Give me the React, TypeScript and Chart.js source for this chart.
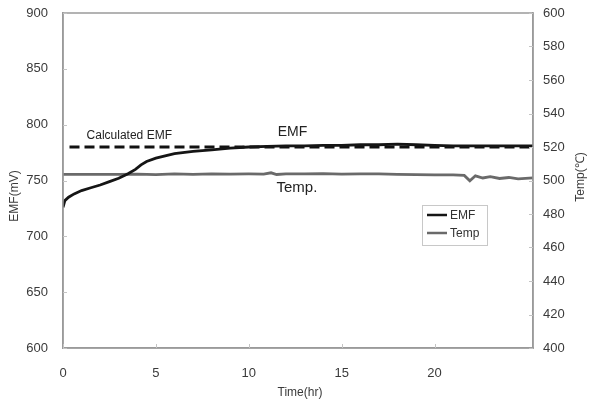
import React, { useEffect, useRef } from "react";
import { Chart, registerables } from "chart.js";

Chart.register(...registerables);

const emfTime = [0, 0.1, 0.3, 0.6, 1.0, 1.5, 2.0, 2.5, 3.0, 3.5, 3.9, 4.2, 4.5, 5.0, 5.5, 6.0, 7.0, 8.0, 9.0, 10.0, 11.0, 12.0, 13.0, 14.0, 15.0, 16.0, 17.0, 18.0, 19.0, 20.0, 21.0, 22.0, 23.0, 24.0, 25.3];
const emfValues = [726, 732, 735, 738, 741, 743.5, 746, 749, 752, 756, 760, 764, 767, 770, 772, 774, 776, 777.5, 779, 780, 780.5, 781, 781, 781.5, 781.5, 782, 782, 782.5, 782, 781.5, 781, 781, 781, 781, 781];

const tempTime = [0, 1, 2, 3, 4, 5, 6, 7, 8, 9, 10, 10.8, 11.2, 11.5, 12, 13, 14, 15, 16, 17, 18, 19, 20, 21, 21.6, 21.9, 22.2, 22.6, 23, 23.5, 24, 24.5, 25.3];
const tempValues = [503.6, 503.6, 503.6, 503.6, 503.8, 503.5, 503.9, 503.7, 504.0, 503.8, 503.9, 503.8, 504.6, 503.6, 504.0, 503.9, 504.1, 503.8, 504.0, 503.9, 503.7, 503.5, 503.4, 503.3, 503.0, 499.8, 502.8, 501.5, 502.3, 501.2, 501.8, 501.0, 501.6];

const calcTime = [0.35, 25.3];
const calcValues = [780, 780];

const xRange = [0, 25.3];
const xTickValues = [0, 5, 10, 15, 20];
const emfRange = [600, 900];
const tempRange = [400, 600];

const FONT = '"Liberation Sans", Arial, sans-serif';
const TEXT = "#3a3a3a";

const decorPlugin = {
  id: "decor",
  afterDatasetsDraw(chart: any) {
    const ctx = chart.ctx;
    const { left, right, top, bottom } = chart.chartArea;
    const x = chart.scales.x;
    const y = chart.scales.y;
    const y1 = chart.scales.y1;
    ctx.save();
    ctx.strokeStyle = "#9a9a9a";
    ctx.lineWidth = 1.5;
    ctx.strokeRect(left, top, right - left, bottom - top);

    // inner tick marks
    ctx.strokeStyle = "#c4c4c4";
    ctx.lineWidth = 1;
    ctx.beginPath();
    for (const t of y.ticks) {
      const p = Math.round(y.getPixelForValue(t.value)) + 0.5;
      ctx.moveTo(left, p); ctx.lineTo(left + 4, p);
    }
    for (const t of y1.ticks) {
      const p = Math.round(y1.getPixelForValue(t.value)) + 0.5;
      ctx.moveTo(right, p); ctx.lineTo(right - 4, p);
    }
    for (const t of x.ticks) {
      const p = Math.round(x.getPixelForValue(t.value)) + 0.5;
      ctx.moveTo(p, bottom); ctx.lineTo(p, bottom - 4);
    }
    ctx.stroke();

    ctx.fillStyle = "#222";
    ctx.textBaseline = "middle";
    ctx.textAlign = "left";
    ctx.font = `12px ${FONT}`;
    ctx.fillText("Calculated EMF", x.getPixelForValue(1.27), y.getPixelForValue(790.5));
    ctx.font = `14px ${FONT}`;
    ctx.fillText("EMF", x.getPixelForValue(11.56), y.getPixelForValue(792.9));
    ctx.font = `15px ${FONT}`;
    ctx.fillText("Temp.", x.getPixelForValue(11.49), y.getPixelForValue(743));

    const lx = 422, ly = 205, lw = 65, lh = 40;
    ctx.fillStyle = "#fff";
    ctx.fillRect(lx, ly, lw, lh);
    ctx.strokeStyle = "#c8c8c8";
    ctx.lineWidth = 1;
    ctx.strokeRect(lx + 0.5, ly + 0.5, lw, lh);
    const items = [
      { label: "EMF", color: "#151515", yy: 215 },
      { label: "Temp", color: "#6a6a6a", yy: 233 },
    ];
    ctx.font = `12px ${FONT}`;
    for (const it of items) {
      ctx.strokeStyle = it.color;
      ctx.lineWidth = 2.5;
      ctx.beginPath();
      ctx.moveTo(427, it.yy);
      ctx.lineTo(447, it.yy);
      ctx.stroke();
      ctx.fillStyle = "#333";
      ctx.fillText(it.label, 450, it.yy + 1);
    }

    ctx.fillStyle = TEXT;
    ctx.font = `12px ${FONT}`;
    ctx.textAlign = "center";
    ctx.fillText("Time(hr)", 300, 393);
    ctx.save();
    ctx.translate(15, 196);
    ctx.rotate(-Math.PI / 2);
    ctx.fillText("EMF(mV)", 0, 0);
    ctx.restore();
    ctx.save();
    ctx.translate(581, 177);
    ctx.rotate(-Math.PI / 2);
    ctx.fillText("Temp(\u2103)", 0, 0);
    ctx.restore();
    ctx.restore();
  },
};

export default function App() {
  const ref = useRef<HTMLCanvasElement | null>(null);
  useEffect(() => {
    if (!ref.current) return;
    const chart = new Chart(ref.current, {
      type: "line",
      data: {
        datasets: [
          {
            label: "EMF",
            data: emfTime.map((t, i) => ({ x: t, y: emfValues[i] })),
            borderColor: "#151515",
            borderWidth: 2.8,
            pointRadius: 0,
            yAxisID: "y",
            tension: 0,
          },
          {
            label: "Temp",
            data: tempTime.map((t, i) => ({ x: t, y: tempValues[i] })),
            borderColor: "#6a6a6a",
            borderWidth: 2.8,
            pointRadius: 0,
            yAxisID: "y1",
            tension: 0,
          },
          {
            label: "Calculated EMF",
            data: calcTime.map((t, i) => ({ x: t, y: calcValues[i] })),
            borderColor: "#111",
            borderWidth: 3,
            borderDash: [10, 5],
            pointRadius: 0,
            yAxisID: "y",
          },
        ],
      },
      options: {
        responsive: false,
        animation: false,
        layout: { padding: { top: 13, left: 0, right: 0, bottom: 0 } },
        plugins: { legend: { display: false }, tooltip: { enabled: false } },
        scales: {
          x: {
            type: "linear",
            min: xRange[0],
            max: xRange[1],
            afterFit: (s: any) => { s.height = 55; s.paddingLeft = 0; s.paddingRight = 0; },
            afterBuildTicks: (s: any) => { s.ticks = xTickValues.map((v) => ({ value: v })); },
            grid: { display: false, drawTicks: false },
            border: { display: true, color: "#9a9a9a", width: 1.5 },
            ticks: { padding: 18, color: TEXT, font: { family: FONT, size: 13 } },
          },
          y: {
            type: "linear",
            position: "left",
            min: emfRange[0],
            max: emfRange[1],
            afterFit: (s: any) => { s.width = 63; s.paddingTop = 0; s.paddingBottom = 0; },
            grid: { display: false, drawTicks: false },
            border: { display: true, color: "#9a9a9a", width: 1.5 },
            ticks: { stepSize: 50, padding: 15, color: TEXT, font: { family: FONT, size: 13 } },
          },
          y1: {
            type: "linear",
            position: "right",
            min: tempRange[0],
            max: tempRange[1],
            afterFit: (s: any) => { s.width = 56; s.paddingTop = 0; s.paddingBottom = 0; },
            grid: { display: false, drawTicks: false },
            border: { display: true, color: "#9a9a9a", width: 1.5 },
            ticks: { stepSize: 20, padding: 10, color: TEXT, font: { family: FONT, size: 13 } },
          },
        },
      },
      plugins: [decorPlugin],
    });
    return () => chart.destroy();
  }, []);
  return (
    <div style={{ position: "fixed", left: 0, top: 0, width: 589, height: 403, background: "#fff" }}>
      <canvas ref={ref} width={589} height={403} />
    </div>
  );
}
